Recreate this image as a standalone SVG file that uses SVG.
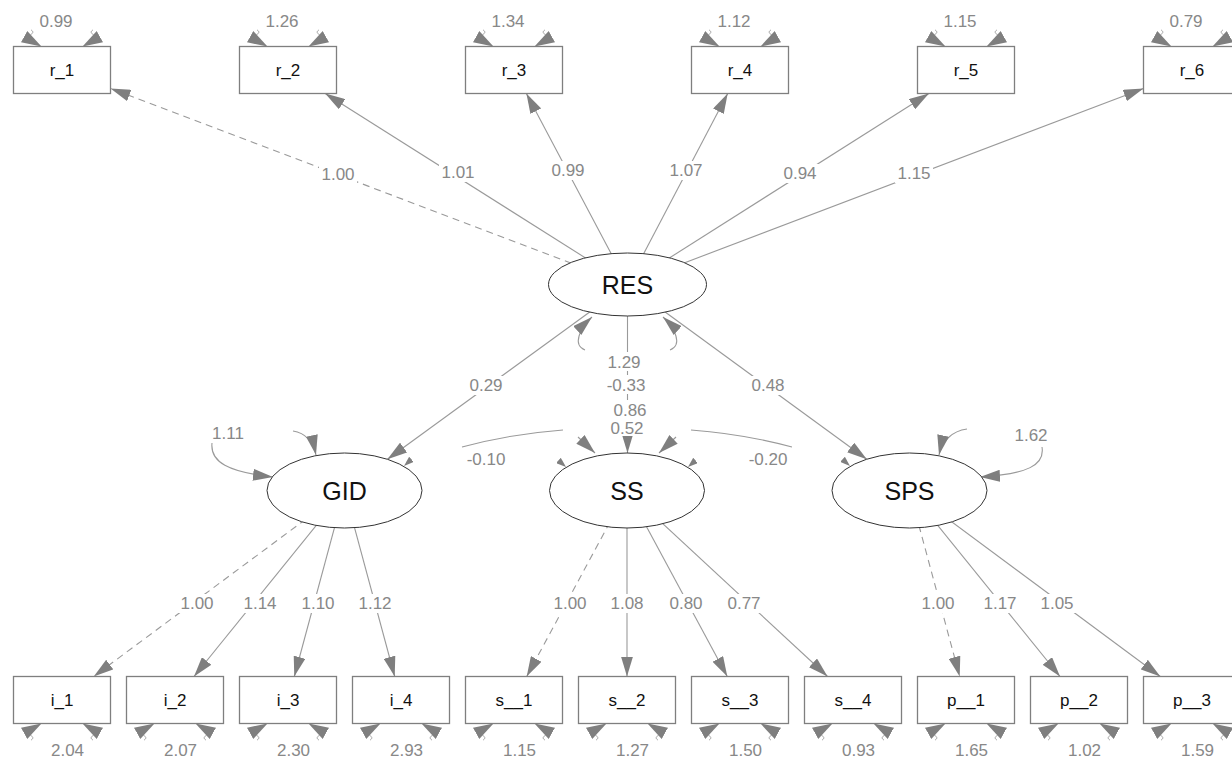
<svg xmlns="http://www.w3.org/2000/svg" xmlns:xlink="http://www.w3.org/1999/xlink" width="1232" height="759" viewBox="0 0 1232 759">
<style>
.bg{fill:#fff}
.box{fill:#fff;stroke:#7f7f7f;stroke-width:1.3}
.lat{fill:#fff;stroke:#333;stroke-width:1}
.nt{font-family:"Liberation Sans",Arial,sans-serif;font-size:17px;fill:#111;text-anchor:middle}
.lt{font-family:"Liberation Sans",Arial,sans-serif;font-size:25px;fill:#111;text-anchor:middle}
.el{font-family:"Liberation Sans",Arial,sans-serif;font-size:17px;fill:#888;text-anchor:middle}
.ln{fill:none;stroke:#9a9a9a;stroke-width:1.1}
.dash{stroke-dasharray:7,5}
.ed{fill:none;stroke:#9a9a9a;stroke-width:1.1;marker-end:url(#a)}
.rs{fill:none;stroke:none;marker-end:url(#ar)}
.cu{fill:none;stroke:#9a9a9a;stroke-width:0.9}
.lb{fill:#fff}
</style>
<defs>
<marker id="a" viewBox="0 0 20 12" refX="20" refY="6" markerWidth="20" markerHeight="12" markerUnits="userSpaceOnUse" orient="auto"><path d="M0,0L20,6L0,12z" fill="#7f7f7f"/></marker>
<marker id="ar" viewBox="0 0 20 13" refX="20" refY="6.5" markerWidth="20" markerHeight="13" markerUnits="userSpaceOnUse" orient="auto"><path d="M0,0L20,6.5L0,13z" fill="#7f7f7f"/></marker>
<marker id="as" viewBox="0 0 10 7" refX="10" refY="3.5" markerWidth="10" markerHeight="7" markerUnits="userSpaceOnUse" orient="auto"><path d="M0,0L10,3.5L0,7z" fill="#7f7f7f"/></marker>
<g id="resTop">
<path class="cu" d="M-31,-16.5c2.5,1 2.5,3.5 -0.5,4.5"/>
<path class="cu" d="M31,-16.5c-2.5,1 -2.5,3.5 0.5,4.5"/>
<path class="rs" d="M-40,-11L-20.5,0"/>
<path class="rs" d="M40,-11L20.5,0"/>
</g>
<g id="resBot">
<path class="cu" d="M-31,16.5c2.5,-1 2.5,-3.5 -0.5,-4.5"/>
<path class="cu" d="M31,16.5c-2.5,-1 -2.5,-3.5 0.5,-4.5"/>
<path class="rs" d="M-40,11L-20.5,0"/>
<path class="rs" d="M40,11L20.5,0"/>
</g>
</defs>
<rect class="bg" x="0" y="0" width="1232" height="759"/>

<g id="connectors">
<path class="ed dash" d="M627.5,284.5L110.5,88.4"/>
<path class="ed" d="M627.5,284.5L325.2,93.5"/>
<path class="ed" d="M627.5,284.5L526.4,93.5"/>
<path class="ed" d="M627.5,284.5L727.7,93.5"/>
<path class="ed" d="M627.5,284.5L928.9,93.5"/>
<path class="ed" d="M627.5,284.5L1143.5,88.4"/>
<path class="ed" d="M627.5,284.5L387.4,459.3"/>
<path class="ed" d="M627.5,284.5L866.8,459.3"/>
<path class="ed" d="M627.5,300L627.5,453"/>
<path class="ed" d="M585,350C572,345 580,328 592,317"/>
<path class="ed" d="M670,350C683,345 675,328 663,317"/>
<path class="ed" d="M212,443C210,462 228,472 273,477"/>
<path class="ed" d="M293,431C305,433 313,441 316,455"/>
<path class="ed" d="M967,429C952,431 942,441 939,455"/>
<path class="ed" d="M1042,447C1045,465 1028,474 980,477"/>
<path class="ln" d="M462,447Q510,434 563,430"/>
<path class="ln" d="M792,447Q744,434 691,430"/>
<path class="ed" d="M578,437L595,453"/>
<path class="ed" d="M676,437L659,453"/>
<path fill="none" stroke="none" marker-end="url(#as)" d="M413,458L404,466"/>
<path fill="none" stroke="none" marker-end="url(#as)" d="M558,460L566,467"/>
<path fill="none" stroke="none" marker-end="url(#as)" d="M696,460L688,467"/>
<path fill="none" stroke="none" marker-end="url(#as)" d="M841,458L850,466"/>
<path class="ed dash" d="M344.5,490.5L93.7,676.5"/>
<path class="ed" d="M344.5,490.5L194,676.5"/>
<path class="ed" d="M344.5,490.5L294.3,676.5"/>
<path class="ed" d="M344.5,490.5L394.7,676.5"/>
<path class="ed dash" d="M627,490.5L526.7,676.5"/>
<path class="ed" d="M627,490.5L627,676.5"/>
<path class="ed" d="M627,490.5L727.3,676.5"/>
<path class="ed" d="M627,490.5L827.6,676.5"/>
<path class="ed dash" d="M909.5,490.5L959.7,676.5"/>
<path class="ed" d="M909.5,490.5L1060,676.5"/>
<path class="ed" d="M909.5,490.5L1160.3,676.5"/>

<g>
<rect class="lb" x="319" y="165" width="38" height="19"/><text class="el" x="338" y="180">1.00</text>
<rect class="lb" x="439" y="163" width="38" height="19"/><text class="el" x="458" y="178">1.01</text>
<rect class="lb" x="549" y="161" width="38" height="19"/><text class="el" x="568" y="176">0.99</text>
<rect class="lb" x="667" y="161" width="38" height="19"/><text class="el" x="686" y="176">1.07</text>
<rect class="lb" x="781" y="164" width="38" height="19"/><text class="el" x="800" y="179">0.94</text>
<rect class="lb" x="895" y="164" width="38" height="19"/><text class="el" x="914" y="179">1.15</text>

<rect class="lb" x="467" y="376" width="38" height="19"/><text class="el" x="486" y="391">0.29</text>
<rect class="lb" x="749" y="376" width="38" height="19"/><text class="el" x="768" y="391">0.48</text>
<rect class="lb" x="605" y="352" width="38" height="19"/><text class="el" x="624" y="368">1.29</text>
<rect class="lb" x="605" y="375" width="42" height="19"/><text class="el" x="626" y="391">-0.33</text>
<rect class="lb" x="611" y="400" width="38" height="19"/><text class="el" x="630" y="416">0.86</text>
<rect class="lb" x="608" y="418" width="38" height="18"/><text class="el" x="627" y="434">0.52</text>
<text class="el" x="486" y="465">-0.10</text>
<text class="el" x="768" y="465">-0.20</text>

<rect class="lb" x="178" y="594" width="38" height="19"/><text class="el" x="197" y="609">1.00</text>
<rect class="lb" x="241" y="594" width="38" height="19"/><text class="el" x="260" y="609">1.14</text>
<rect class="lb" x="299" y="594" width="38" height="19"/><text class="el" x="318" y="609">1.10</text>
<rect class="lb" x="356" y="594" width="38" height="19"/><text class="el" x="375" y="609">1.12</text>
<rect class="lb" x="551" y="594" width="38" height="19"/><text class="el" x="570" y="609">1.00</text>
<rect class="lb" x="608" y="594" width="38" height="19"/><text class="el" x="627" y="609">1.08</text>
<rect class="lb" x="667" y="594" width="38" height="19"/><text class="el" x="686" y="609">0.80</text>
<rect class="lb" x="725" y="594" width="38" height="19"/><text class="el" x="744" y="609">0.77</text>
<rect class="lb" x="919" y="594" width="38" height="19"/><text class="el" x="938" y="609">1.00</text>
<rect class="lb" x="981" y="594" width="38" height="19"/><text class="el" x="1000" y="609">1.17</text>
<rect class="lb" x="1038" y="594" width="38" height="19"/><text class="el" x="1057" y="609">1.05</text>

<text class="el" x="228" y="439">1.11</text>
<text class="el" x="1031" y="441">1.62</text>
</g>
</g>

<g id="RES"><ellipse class="lat" cx="627.5" cy="284.5" rx="79" ry="31.5"/><text class="lt" x="627.5" y="293.5">RES</text></g>
<g id="GID"><ellipse class="lat" cx="344.5" cy="490.5" rx="77.5" ry="37.5"/><text class="lt" x="344.5" y="499.5">GID</text></g>
<g id="SS"><ellipse class="lat" cx="627" cy="490.5" rx="77.5" ry="37.5"/><text class="lt" x="627" y="499.5">SS</text></g>
<g id="SPS"><ellipse class="lat" cx="909.5" cy="490.5" rx="77.5" ry="37.5"/><text class="lt" x="909.5" y="499.5">SPS</text></g>

<g id="r_1"><rect class="box" x="13.5" y="46.5" width="97" height="47"/><text class="nt" x="62" y="76">r_1</text><use xlink:href="#resTop" x="62" y="46.5"/><text class="el" x="56" y="27">0.99</text></g>
<g id="r_2"><rect class="box" x="239.5" y="46.5" width="97" height="47"/><text class="nt" x="288" y="76">r_2</text><use xlink:href="#resTop" x="288" y="46.5"/><text class="el" x="282" y="27">1.26</text></g>
<g id="r_3"><rect class="box" x="465.5" y="46.5" width="97" height="47"/><text class="nt" x="514" y="76">r_3</text><use xlink:href="#resTop" x="514" y="46.5"/><text class="el" x="508" y="27">1.34</text></g>
<g id="r_4"><rect class="box" x="691.5" y="46.5" width="97" height="47"/><text class="nt" x="740" y="76">r_4</text><use xlink:href="#resTop" x="740" y="46.5"/><text class="el" x="734" y="27">1.12</text></g>
<g id="r_5"><rect class="box" x="917.5" y="46.5" width="97" height="47"/><text class="nt" x="966" y="76">r_5</text><use xlink:href="#resTop" x="966" y="46.5"/><text class="el" x="960" y="27">1.15</text></g>
<g id="r_6"><rect class="box" x="1143.5" y="46.5" width="97" height="47"/><text class="nt" x="1192" y="76">r_6</text><use xlink:href="#resTop" x="1192" y="46.5"/><text class="el" x="1186" y="27">0.79</text></g>

<g id="i_1"><rect class="box" x="13.5" y="676.5" width="97" height="47"/><text class="nt" x="62" y="706">i_1</text><use xlink:href="#resBot" x="62" y="723.5"/><text class="el" x="67.5" y="756">2.04</text></g>
<g id="i_2"><rect class="box" x="126.5" y="676.5" width="97" height="47"/><text class="nt" x="175" y="706">i_2</text><use xlink:href="#resBot" x="175" y="723.5"/><text class="el" x="180.5" y="756">2.07</text></g>
<g id="i_3"><rect class="box" x="239.5" y="676.5" width="97" height="47"/><text class="nt" x="288" y="706">i_3</text><use xlink:href="#resBot" x="288" y="723.5"/><text class="el" x="293.5" y="756">2.30</text></g>
<g id="i_4"><rect class="box" x="352.5" y="676.5" width="97" height="47"/><text class="nt" x="401" y="706">i_4</text><use xlink:href="#resBot" x="401" y="723.5"/><text class="el" x="406.5" y="756">2.93</text></g>
<g id="s__1"><rect class="box" x="465.5" y="676.5" width="97" height="47"/><text class="nt" x="514" y="706">s__1</text><use xlink:href="#resBot" x="514" y="723.5"/><text class="el" x="519.5" y="756">1.15</text></g>
<g id="s__2"><rect class="box" x="578.5" y="676.5" width="97" height="47"/><text class="nt" x="627" y="706">s__2</text><use xlink:href="#resBot" x="627" y="723.5"/><text class="el" x="632.5" y="756">1.27</text></g>
<g id="s__3"><rect class="box" x="691.5" y="676.5" width="97" height="47"/><text class="nt" x="740" y="706">s__3</text><use xlink:href="#resBot" x="740" y="723.5"/><text class="el" x="745.5" y="756">1.50</text></g>
<g id="s__4"><rect class="box" x="804.5" y="676.5" width="97" height="47"/><text class="nt" x="853" y="706">s__4</text><use xlink:href="#resBot" x="853" y="723.5"/><text class="el" x="858.5" y="756">0.93</text></g>
<g id="p__1"><rect class="box" x="917.5" y="676.5" width="97" height="47"/><text class="nt" x="966" y="706">p__1</text><use xlink:href="#resBot" x="966" y="723.5"/><text class="el" x="971.5" y="756">1.65</text></g>
<g id="p__2"><rect class="box" x="1030.5" y="676.5" width="97" height="47"/><text class="nt" x="1079" y="706">p__2</text><use xlink:href="#resBot" x="1079" y="723.5"/><text class="el" x="1084.5" y="756">1.02</text></g>
<g id="p__3"><rect class="box" x="1143.5" y="676.5" width="97" height="47"/><text class="nt" x="1192" y="706">p__3</text><use xlink:href="#resBot" x="1192" y="723.5"/><text class="el" x="1197.5" y="756">1.59</text></g>
</svg>
